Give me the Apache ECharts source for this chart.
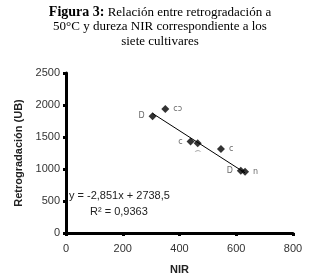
<!DOCTYPE html>
<html>
<head>
<meta charset="utf-8">
<script src="https://cdn.jsdelivr.net/npm/echarts@6/dist/echarts.min.js"></script>
<style>
  html, body { margin: 0; padding: 0; background: #fff; }
  #chart { width: 320px; height: 280px; }
</style>
</head>
<body>
<div id="chart"></div>
<script>
// NIR (x) y retrogradacion (y) de los siete cultivares
var nir = [305, 350, 439, 464, 546, 616, 631];
var retro = [1825, 1936, 1428, 1402, 1311, 971, 956];
// etiquetas de los puntos (tal como aparecen, ilegibles)
var pointLabels = ['D', 'cↄ', 'c', '⌒', 'c', 'D', 'n'];
var labelPos = ['left', 'right', 'left', 'bottom', 'right', 'left', 'right'];
// linea de tendencia
var slope = -2.851;
var intercept = 2738.5;
var xTicks = [0, 200, 400, 600, 800];

var chart = echarts.init(document.getElementById('chart'));

var pts = [];
for (var i = 0; i < nir.length; i++) {
    pts.push({
        value: [nir[i], retro[i]],
        label: {
            show: true,
            formatter: pointLabels[i],
            position: labelPos[i],
            distance: 4,
            fontSize: 8,
            color: '#444',
            fontFamily: 'DejaVu Sans'
        }
    });
}
var xMin = Math.min.apply(null, nir);
var xMax = Math.max.apply(null, nir);
var trend = [[xMin, slope * xMin + intercept], [xMax, slope * xMax + intercept]];

var option = {
    backgroundColor: '#fff',
    animation: false,
    title: {
        left: 'center',
        top: 0,
        text: '{b|Figura 3:} Relación entre retrogradación a\n50°C y dureza NIR correspondiente a los\nsiete cultivares',
        textStyle: {
            fontFamily: 'Liberation Serif',
            fontSize: 13,
            fontWeight: 'normal',
            color: '#000',
            lineHeight: 14.5,
            rich: {
                b: { fontFamily: 'Liberation Serif', fontSize: 14, fontWeight: 'bold', color: '#000' }
            }
        }
    },
    grid: { left: 66, right: 27, top: 73, bottom: 43 },
    xAxis: {
        type: 'value',
        min: 0, max: 800, interval: 200,
        name: 'NIR',
        nameLocation: 'middle',
        nameGap: 31,
        nameTextStyle: { fontFamily: 'Liberation Sans', fontWeight: 'bold', fontSize: 11, color: '#222' },
        axisLine: { lineStyle: { color: '#000', width: 3 } },
        axisTick: { show: true, length: 3, lineStyle: { color: '#000', width: 3 } },
        axisLabel: { fontFamily: 'Liberation Sans', fontSize: 11, color: '#333', margin: 10,
            formatter: function (v) { return String(v); } },
        splitLine: { show: false }
    },
    yAxis: {
        type: 'value',
        min: 0, max: 2500, interval: 500,
        name: 'Retrogradación (UB)',
        nameLocation: 'middle',
        nameGap: 40,
        nameTextStyle: { fontFamily: 'Liberation Sans', fontWeight: 'bold', fontSize: 11, color: '#222' },
        axisLine: { show: true, lineStyle: { color: '#000', width: 3 } },
        axisTick: { show: true, length: 3, lineStyle: { color: '#000', width: 3 } },
        axisLabel: { fontFamily: 'Liberation Sans', fontSize: 11, color: '#333', margin: 6,
            formatter: function (v) { return String(v); } },
        splitLine: { show: false }
    },
    graphic: [
        {
            type: 'text', left: 69, top: 190,
            style: { text: 'y = -2,851x + 2738,5', fontFamily: 'Liberation Sans', fontSize: 11, fill: '#222' }
        },
        {
            type: 'text', left: 90, top: 206,
            style: { text: 'R² = 0,9363', fontFamily: 'Liberation Sans', fontSize: 11, fill: '#222' }
        }
    ],
    series: [
        {
            type: 'line',
            data: trend,
            symbol: 'none',
            lineStyle: { color: '#000', width: 1 },
            z: 1
        },
        {
            type: 'scatter',
            data: pts,
            symbol: 'diamond',
            symbolSize: 8,
            itemStyle: { color: '#000' },
            z: 2
        }
    ]
};
chart.setOption(option);
</script>
</body>
</html>
